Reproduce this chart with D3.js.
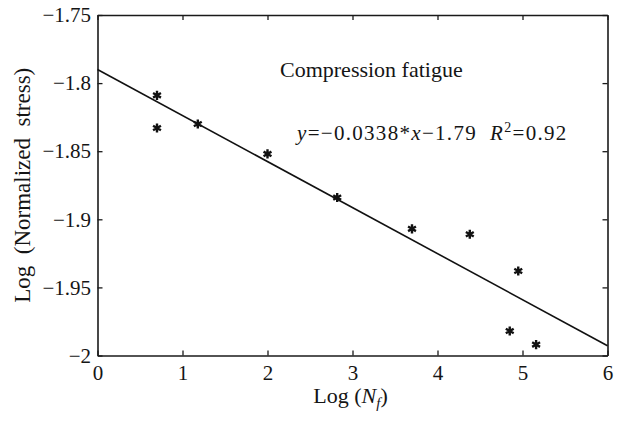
<!DOCTYPE html>
<html>
<head>
<meta charset="utf-8">
<script src="https://cdn.jsdelivr.net/npm/d3@7"></script>
<style>
  body { margin: 0; background: #fff; }
  svg text { font-family: "Liberation Serif", "Times New Roman", serif; fill: #151515; }
</style>
</head>
<body>
<svg id="chart" width="621" height="421"></svg>
<script>
// measured points, Log(Nf) vs Log(normalized stress)
var logNf = [0.70, 0.70, 1.18, 2.00, 2.82, 3.70, 4.38, 4.95, 4.85, 5.16];
var logStress = [-1.809, -1.833, -1.830, -1.852, -1.884, -1.907, -1.911, -1.938, -1.982, -1.992];

// fitted line y = -0.0338*x - 1.79
var slope = -0.0338;
var intercept = -1.79;
var fitX = [0, 6];

var xTicks = [0, 1, 2, 3, 4, 5, 6];
var yTicks = [-2, -1.95, -1.9, -1.85, -1.8, -1.75];

var width = 621;
var height = 421;
var margin = { top: 15, right: 13.5, bottom: 65.5, left: 97.5 };
var innerWidth = width - margin.left - margin.right;
var innerHeight = height - margin.top - margin.bottom;

var svg = d3.select("#chart");
var g = svg.append("g")
    .attr("transform", "translate(" + margin.left + "," + margin.top + ")");

var x = d3.scaleLinear().domain([0, 6]).range([0, innerWidth]);
var y = d3.scaleLinear().domain([-2, -1.75]).range([innerHeight, 0]);

var fmt = function(d) { return String(d).replace("-", "\u2212"); };

// axes, ticks pointing inward like matlab
g.append("g")
    .attr("transform", "translate(0," + innerHeight + ")")
    .call(d3.axisBottom(x).tickValues(xTicks).tickFormat(fmt)
        .tickSizeInner(-5).tickSizeOuter(0).tickPadding(9.5));

g.append("g")
    .call(d3.axisLeft(y).tickValues(yTicks).tickFormat(fmt)
        .tickSizeInner(-5).tickSizeOuter(0).tickPadding(6.5));

// box: top and right sides carry ticks but no labels
g.append("g")
    .attr("class", "box")
    .call(d3.axisTop(x).tickValues(xTicks)
        .tickSizeInner(-5).tickSizeOuter(0));

g.append("g")
    .attr("class", "box")
    .attr("transform", "translate(" + innerWidth + ",0)")
    .call(d3.axisRight(y).tickValues(yTicks)
        .tickSizeInner(-5).tickSizeOuter(0));

g.selectAll(".box text").remove();

g.selectAll(".domain").attr("stroke", "#1a1a1a").attr("stroke-width", 1.6);
g.selectAll(".tick line").attr("stroke", "#1a1a1a").attr("stroke-width", 1.3);
g.selectAll(".tick text")
    .style("font-family", "Liberation Serif, serif")
    .style("font-size", "21px")
    .attr("fill", "#151515");

// regression line
g.append("path")
    .datum(fitX)
    .attr("d", d3.line()
        .x(d => x(d))
        .y(d => y(slope * d + intercept)))
    .style("fill", "none")
    .style("stroke", "#111")
    .style("stroke-width", "1.6px");

// asterisk markers
var star = d3.symbol().type(d3.symbolAsterisk).size(58);
g.selectAll(".pt")
    .data(logNf)
    .enter().append("path")
    .attr("class", "pt")
    .attr("transform", (d, i) => "translate(" + x(d) + "," + y(logStress[i]) + ")")
    .attr("d", star)
    .style("fill", "none")
    .style("stroke", "#111")
    .style("stroke-width", "2.4px");

// annotations
svg.append("text")
    .attr("x", 280)
    .attr("y", 77)
    .style("font-size", "22px")
    .text("Compression fatigue");

var eq = svg.append("text")
    .attr("x", 297)
    .attr("y", 140)
    .style("font-size", "21px")
    .style("letter-spacing", "1.3px");
eq.append("tspan").style("font-style", "italic").text("y");
eq.append("tspan").text("=\u22120.0338*");
eq.append("tspan").style("font-style", "italic").text("x");
eq.append("tspan").text("\u22121.79\u00a0\u00a0");
eq.append("tspan").style("font-style", "italic").text("R");
eq.append("tspan").attr("dy", -8).style("font-size", "14px").text("2");
eq.append("tspan").attr("dy", 8).text("=0.92");

// axis labels
var xl = svg.append("text")
    .attr("x", margin.left + innerWidth / 2 - 2)
    .attr("y", 403)
    .attr("text-anchor", "middle")
    .style("font-size", "22px");
xl.append("tspan").text("Log (");
xl.append("tspan").style("font-style", "italic").text("N");
xl.append("tspan").attr("dy", 5).style("font-style", "italic").style("font-size", "15px").text("f");
xl.append("tspan").attr("dy", -5).text(")");

svg.append("text")
    .attr("transform", "translate(30," + (margin.top + innerHeight / 2) + ") rotate(-90)")
    .attr("text-anchor", "middle")
    .style("font-size", "23px")
    .text("Log\u00a0 (Normalized\u00a0 stress)");
</script>
</body>
</html>
